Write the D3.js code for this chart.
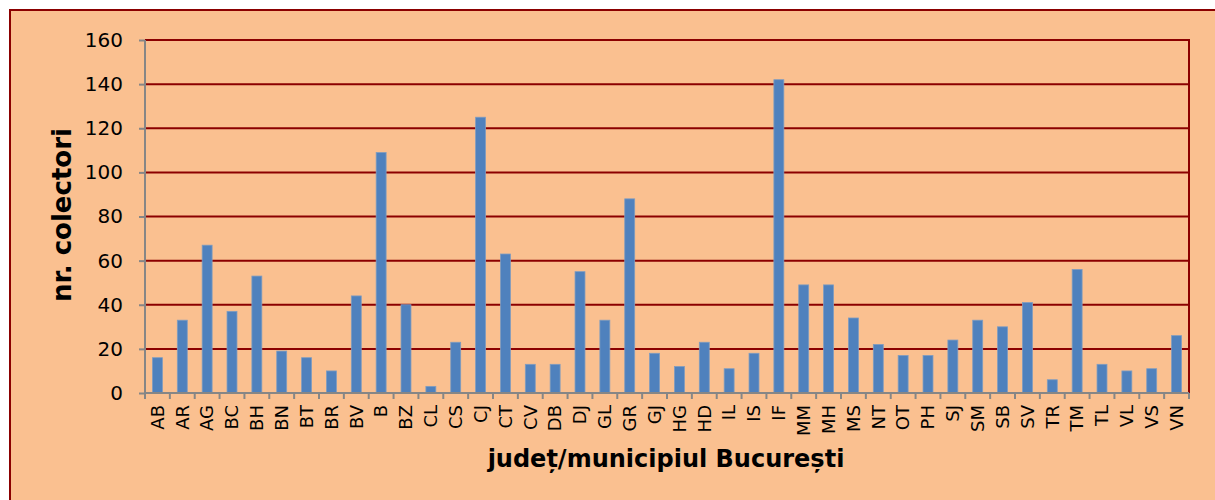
<!DOCTYPE html>
<html>
<head>
<meta charset="utf-8">
<script src="https://cdn.jsdelivr.net/npm/d3@7"></script>
<style>
  body { margin: 0; background: #fff; }
  svg { display: block; }
</style>
</head>
<body>
<svg width="1215" height="500"></svg>
<script>
// judete + valori
var judete = ["AB","AR","AG","BC","BH","BN","BT","BR","BV","B","BZ","CL","CS","CJ","CT","CV","DB","DJ","GL","GR","GJ","HG","HD","IL","IS","IF","MM","MH","MS","NT","OT","PH","SJ","SM","SB","SV","TR","TM","TL","VL","VS","VN"];
var colectori = [16,33,67,37,53,19,16,10,44,109,40,3,23,125,63,13,13,55,33,88,18,12,23,11,18,142,49,49,34,22,17,17,24,33,30,41,6,56,13,10,11,26];
var yTicks = [0,20,40,60,80,100,120,140,160];

var svg = d3.select("svg");
var font = "DejaVu Sans, Verdana, sans-serif";

// fundal
svg.append("rect")
    .attr("x", 10).attr("y", 10)
    .attr("width", 1215).attr("height", 500)
    .attr("fill", "#FAC090")
    .attr("stroke", "#8B0000")
    .attr("stroke-width", 2);

var pLeft = 145, pRight = 1189, pTop = 40, pBottom = 393;

var x = d3.scaleBand()
    .domain(judete)
    .range([pLeft, pRight])
    .paddingInner(0.6)
    .paddingOuter(0.3);

var y = d3.scaleLinear()
    .domain([0, 160])
    .range([pBottom, pTop]);

// gridlines
svg.append("g")
    .selectAll("line")
    .data(yTicks.filter(d => d > 0))
    .enter().append("line")
    .attr("x1", pLeft).attr("x2", pRight)
    .attr("y1", d => y(d)).attr("y2", d => y(d))
    .attr("stroke", "#8B0000")
    .attr("stroke-width", 2);

// marginea din dreapta
svg.append("line")
    .attr("x1", pRight).attr("x2", pRight)
    .attr("y1", pTop - 1).attr("y2", pBottom)
    .attr("stroke", "#8B0000")
    .attr("stroke-width", 2);

// bare
svg.append("g")
    .selectAll("rect")
    .data(colectori)
    .enter().append("rect")
    .attr("x", (d, i) => x(judete[i]))
    .attr("y", d => y(d))
    .attr("width", x.bandwidth())
    .attr("height", d => y(0) - y(d))
    .attr("fill", "#4F81BD")
    .attr("stroke", "#7F9CC0")
    .attr("stroke-width", 0.8);

// axa y
var yAxis = svg.append("g")
    .attr("transform", "translate(" + pLeft + ",0)")
    .call(d3.axisLeft(y).tickValues(yTicks).tickSize(6).tickPadding(16));
yAxis.select(".domain").attr("stroke", "#868686").attr("stroke-width", 2).attr("d", "M0," + pTop + "V" + pBottom);
yAxis.selectAll(".tick line").attr("stroke", "#868686").attr("stroke-width", 2);
yAxis.selectAll("text")
    .attr("font-family", font)
    .attr("font-size", 20)
    .attr("fill", "#000");

// axa x
var xAxis = svg.append("g")
    .attr("transform", "translate(0," + pBottom + ")")
    .call(d3.axisBottom(x).tickSize(0).tickPadding(0));
xAxis.select(".domain").attr("stroke", "#868686").attr("stroke-width", 2).attr("d", "M" + pLeft + ",0H" + pRight);
xAxis.selectAll(".tick text")
    .attr("font-family", font)
    .attr("font-size", 18)
    .attr("fill", "#000")
    .attr("text-anchor", "end")
    .attr("dy", "0.35em")
    .attr("transform", "translate(0,12) rotate(-90)")
    .attr("x", 0).attr("y", 0);

// tick-uri intre categorii
xAxis.append("g")
    .selectAll("line")
    .data(d3.range(judete.length + 1))
    .enter().append("line")
    .attr("x1", i => pLeft + i * (pRight - pLeft) / judete.length)
    .attr("x2", i => pLeft + i * (pRight - pLeft) / judete.length)
    .attr("y1", 0).attr("y2", 6)
    .attr("stroke", "#868686")
    .attr("stroke-width", 2);

// titluri axe
svg.append("text")
    .attr("x", 666)
    .attr("y", 467)
    .attr("text-anchor", "middle")
    .attr("font-family", font)
    .attr("font-weight", "bold")
    .attr("font-size", 24)
    .text("județ/municipiul București");

svg.append("text")
    .attr("transform", "translate(71,215) rotate(-90)")
    .attr("text-anchor", "middle")
    .attr("font-family", font)
    .attr("font-weight", "bold")
    .attr("font-size", 26)
    .text("nr. colectori");
</script>
</body>
</html>
